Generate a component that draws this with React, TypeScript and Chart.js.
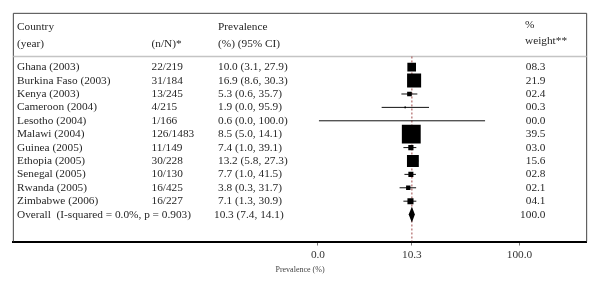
import React, { useEffect, useRef } from "react";
import { Chart, registerables } from "chart.js";

Chart.register(...registerables);

// ---- table data ----
const countries = [
  "Ghana (2003)",
  "Burkina Faso (2003)",
  "Kenya (2003)",
  "Cameroon (2004)",
  "Lesotho (2004)",
  "Malawi (2004)",
  "Guinea (2005)",
  "Ethopia (2005)",
  "Senegal (2005)",
  "Rwanda (2005)",
  "Zimbabwe (2006)",
];
const nN = ["22/219", "31/184", "13/245", "4/215", "1/166", "126/1483", "11/149", "30/228", "10/130", "16/425", "16/227"];
const prevText = [
  "10.0 (3.1, 27.9)",
  "16.9 (8.6, 30.3)",
  "5.3 (0.6, 35.7)",
  "1.9 (0.0, 95.9)",
  "0.6 (0.0, 100.0)",
  "8.5 (5.0, 14.1)",
  "7.4 (1.0, 39.1)",
  "13.2 (5.8, 27.3)",
  "7.7 (1.0, 41.5)",
  "3.8 (0.3, 31.7)",
  "7.1 (1.3, 30.9)",
];
const weights = [8.3, 21.9, 2.4, 0.3, 0.0, 39.5, 3.0, 15.6, 2.8, 2.1, 4.1];
const weightText = ["08.3", "21.9", "02.4", "00.3", "00.0", "39.5", "03.0", "15.6", "02.8", "02.1", "04.1"];
const overallLabel = "Overall  (I-squared = 0.0%, p = 0.903)";
const overallPrev = "10.3 (7.4, 14.1)";
const overallWeight = "100.0";

// ---- plotted positions on the (transformed) display axis ----
const plotEst = [46.5, 47.7, 45.4, 43.3, 41.9, 46.3, 46.1, 47.1, 46.1, 44.8, 45.9];
const plotLo = [44.9, 44.9, 41.4, 31.6, 0.5, 44.4, 42.4, 44.4, 42.9, 40.5, 42.4];
const plotHi = [47.9, 50.3, 49.3, 55.1, 82.9, 48.5, 48.8, 49.8, 48.6, 48.7, 48.8];
const overallPlot = { est: 46.6, lo: 45.0, hi: 48.1 };

// ---- axis ticks ----
const tickVals = [0, 46.6, 100];
const tickLabels = ["0.0", "10.3", "100.0"];

const FAMILY = '"Liberation Serif", "Times New Roman", serif';

export default function App() {
  const ref = useRef<HTMLCanvasElement>(null);

  useEffect(() => {
    const canvas = ref.current;
    if (!canvas) return;
    const overallRow = countries.length;

    const boxData = plotEst.map((x, i) => ({ x, y: i }));
    const ciData: any[] = [];
    plotLo.forEach((lo, i) => {
      ciData.push({ x: lo, y: i }, { x: plotHi[i], y: i }, { x: plotHi[i], y: null });
    });
    const refData = [
      { x: overallPlot.est, y: -0.8 },
      { x: overallPlot.est, y: 13.01 },
    ];

    const tablePlugin = {
      id: "forestTable",
      beforeDatasetsDraw(chart: any) {
        const { ctx, chartArea: a, scales } = chart;
        const y = scales.y;
        ctx.save();
        // frame
        ctx.strokeStyle = "#444";
        ctx.lineWidth = 1;
        ctx.beginPath();
        ctx.moveTo(a.left, a.bottom);
        ctx.lineTo(a.left, a.top);
        ctx.lineTo(a.right, a.top);
        ctx.lineTo(a.right, a.bottom);
        ctx.stroke();
        // header separator
        const sy = y.getPixelForValue(-0.8);
        ctx.strokeStyle = "#c4c4c4";
        ctx.lineWidth = 1.5;
        ctx.beginPath();
        ctx.moveTo(a.left, sy);
        ctx.lineTo(a.right, sy);
        ctx.stroke();

        // text
        ctx.fillStyle = "#262626";
        ctx.font = `11.3px ${FAMILY}`;
        ctx.textBaseline = "middle";
        const colC = 17, colN = 151.5, colP = 218, colW = 545.5, colWh = 525;
        ctx.textAlign = "left";
        ctx.fillText("Country", colC, y.getPixelForValue(-3.02));
        ctx.fillText("(year)", colC, y.getPixelForValue(-1.76));
        ctx.fillText("(n/N)*", colN, y.getPixelForValue(-1.76));
        ctx.fillText("Prevalence", colP, y.getPixelForValue(-3.02));
        ctx.fillText("(%) (95% CI)", colP, y.getPixelForValue(-1.76));
        ctx.fillText("%", colWh, y.getPixelForValue(-3.17));
        ctx.fillText("weight**", colWh, y.getPixelForValue(-1.94));

        countries.forEach((c, i) => {
          const py = y.getPixelForValue(i);
          ctx.textAlign = "left";
          ctx.fillText(c, colC, py);
          ctx.fillText(nN[i], colN, py);
          ctx.fillText(prevText[i], colP, py);
          ctx.textAlign = "right";
          ctx.fillText(weightText[i], colW, py);
        });
        const oy = y.getPixelForValue(overallRow);
        ctx.textAlign = "left";
        ctx.fillText(overallLabel, colC, oy);
        ctx.fillText(overallPrev, colP - 4, oy);
        ctx.textAlign = "right";
        ctx.fillText(overallWeight, colW, oy);
        ctx.restore();
      },
      afterDatasetsDraw(chart: any) {
        const { ctx, scales } = chart;
        const x = scales.x, y = scales.y;
        const cy = y.getPixelForValue(overallRow);
        const half = y.getPixelForValue(overallRow + 0.59) - cy;
        ctx.save();
        ctx.fillStyle = "#000";
        ctx.beginPath();
        ctx.moveTo(x.getPixelForValue(overallPlot.lo), cy);
        ctx.lineTo(x.getPixelForValue(overallPlot.est), cy - half);
        ctx.lineTo(x.getPixelForValue(overallPlot.hi), cy);
        ctx.lineTo(x.getPixelForValue(overallPlot.est), cy + half);
        ctx.closePath();
        ctx.fill();
        ctx.restore();
      },
    };

    const chart = new Chart(canvas, {
      type: "scatter",
      data: {
        datasets: [
          {
            data: boxData,
            pointStyle: "rect",
            pointRadius: (c: any) => (3 * Math.sqrt(weights[c.dataIndex] || 0)) / Math.SQRT2,
            backgroundColor: "#000",
            borderWidth: 0,
          } as any,
          {
            data: ciData,
            showLine: true,
            spanGaps: false,
            pointRadius: 0,
            borderColor: "#111",
            borderWidth: 1,
          } as any,
          {
            data: refData,
            showLine: true,
            pointRadius: 0,
            borderColor: "#a04848",
            borderWidth: 1,
            borderDash: [2, 2],
          } as any,
        ],
      },
      options: {
        animation: false,
        responsive: false,
        events: [],
        layout: { padding: { left: 12.7, right: 10.7, top: 11, bottom: 0 } },
        plugins: { legend: { display: false }, tooltip: { enabled: false } },
        scales: {
          x: {
            type: "linear",
            min: -151.1,
            max: 133.3,
            afterBuildTicks: (s: any) => {
              s.ticks = tickVals.map((v) => ({ value: v }));
            },
            afterFit: (s: any) => {
              s.height = 40.5;
            },
            ticks: {
              callback: (_v: any, i: number) => tickLabels[i],
              font: { family: FAMILY, size: 11.3 },
              color: "#333",
              padding: 3,
              maxRotation: 0,
              autoSkip: false,
            },
            grid: { drawOnChartArea: false, tickLength: 4, color: "#777" },
            border: { color: "#000", width: 2 },
            title: {
              display: true,
              text: "Prevalence (%)",
              font: { family: FAMILY, size: 8 },
              color: "#444",
              padding: { top: 0, bottom: 7.2 },
            },
          },
          y: { type: "linear", display: false, reverse: true, min: -4.02, max: 13.01 },
        },
      } as any,
      plugins: [tablePlugin],
    });
    return () => chart.destroy();
  }, []);

  return (
    <div style={{ position: "absolute", left: 0, top: 0, width: 600, height: 282, background: "#fff" }}>
      <canvas ref={ref} width={600} height={282} style={{ display: "block", width: 600, height: 282 }} />
    </div>
  );
}
